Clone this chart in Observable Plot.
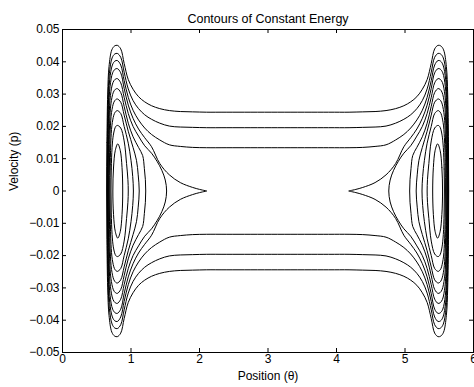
<!DOCTYPE html>
<html>
<head>
<meta charset="utf-8">
<script src="https://cdn.jsdelivr.net/npm/d3@7"></script>
<script src="https://cdn.jsdelivr.net/npm/@observablehq/plot@0.6"></script>
<style>
  html, body { margin: 0; padding: 0; background: #fff; }
  svg { display: block; }
</style>
</head>
<body>
<div id="chart"></div>
<script>
// Title and axis labels
const titleText = "Contours of Constant Energy";
const xLabel = "Position (θ)";
const yLabel = "Velocity (p)";
const xTicks = [0, 1, 2, 3, 4, 5, 6];
const yTicks = [-0.05, -0.04, -0.03, -0.02, -0.01, 0, 0.01, 0.02, 0.03, 0.04, 0.05];

// Traced contours, upper-left quadrant [theta, p], from the left wall (p = 0) rightward.
// Closed loops around the left well (levels 1..7)
const level1 = [[0.735,0],[0.745,0.0073],[0.771,0.0126],[0.807,0.0146],[0.843,0.0126],[0.869,0.0073],[0.879,0]];
const level2 = [[0.708,0],[0.712,0.0068],[0.724,0.0135],[0.742,0.0173],[0.768,0.0196],[0.787,0.0202],[0.805,0.0203],
                [0.85,0.0195],[0.90,0.0155],[0.935,0.0085],[0.955,0.0035],[0.96,0]];
const level3 = [[0.693,0],[0.697,0.0083],[0.708,0.0165],[0.727,0.0212],[0.758,0.024],[0.782,0.0247],[0.80,0.0249],
                [0.85,0.0240],[0.90,0.0200],[0.96,0.0148],[1.0,0.0095],[1.025,0.0045],[1.035,0]];
const level4 = [[0.682,0],[0.686,0.0095],[0.697,0.0189],[0.716,0.0243],[0.750,0.0275],[0.777,0.0283],[0.80,0.0285],
                [0.85,0.0275],[0.90,0.0235],[0.96,0.0185],[1.03,0.0135],[1.08,0.0095],[1.105,0.005],[1.12,0]];
const level5 = [[0.673,0],[0.677,0.0106],[0.688,0.021],[0.707,0.027],[0.743,0.0306],[0.773,0.0315],[0.80,0.0317],
                [0.85,0.0305],[0.90,0.0262],[0.96,0.0210],[1.03,0.0168],[1.11,0.0135],[1.17,0.0110],[1.195,0.007],[1.21,0.0035],[1.215,0]];
const level6 = [[0.666,0],[0.670,0.0116],[0.681,0.023],[0.700,0.0296],[0.737,0.0336],[0.770,0.0346],[0.80,0.0348],
                [0.85,0.0335],[0.90,0.0290],[0.96,0.0240],[1.03,0.0200],[1.11,0.0170],[1.20,0.0140],[1.30,0.0117],[1.38,0.0092],[1.45,0.0064],[1.50,0.0034],[1.52,0]];
const level7 = [[0.660,0],[0.664,0.0127],[0.675,0.0252],[0.694,0.0323],[0.732,0.0366],[0.767,0.0377],[0.80,0.0379],
                [0.85,0.0366],[0.90,0.0318],[0.96,0.0266],[1.03,0.0225],[1.11,0.0192],[1.20,0.0165],[1.30,0.0137],[1.42,0.0085],[1.56,0.0050],[1.72,0.0026],[1.9,0.0011],[2.0,0.0005],[2.08,0.00012],[2.105,0]];
// Open curves that cross the flat middle (levels 8..10), traced to theta = pi
const level8 = [[0.655,0],[0.659,0.0135],[0.670,0.0268],[0.689,0.0344],[0.728,0.039],[0.764,0.0402],[0.80,0.0404],
                [0.85,0.0390],[0.90,0.0342],[0.96,0.0290],[1.03,0.0250],[1.11,0.0220],[1.20,0.0195],[1.30,0.0175],[1.42,0.0158],[1.56,0.0143],[1.72,0.0138],[1.9,0.0135],[2.1,0.0134],[2.4,0.0134],[3.1416,0.0134]];
const level9 = [[0.650,0],[0.654,0.0142],[0.665,0.0283],[0.684,0.0363],[0.724,0.0412],[0.762,0.0424],[0.80,0.0426],
                [0.85,0.0414],[0.90,0.0368],[0.96,0.0316],[1.03,0.0280],[1.11,0.0255],[1.20,0.0236],[1.30,0.0222],[1.42,0.0210],[1.56,0.0201],[1.72,0.0198],[1.9,0.0197],[2.1,0.0196],[2.4,0.0196],[3.1416,0.0196]];
const level10 = [[0.645,0],[0.649,0.015],[0.660,0.030],[0.679,0.0385],[0.72,0.0437],[0.76,0.0449],[0.80,0.0451],
                 [0.85,0.0440],[0.90,0.0395],[0.96,0.0345],[1.03,0.0315],[1.11,0.0292],[1.20,0.0276],[1.30,0.0264],[1.42,0.0255],[1.56,0.0249],[1.72,0.0246],[1.9,0.0245],[2.1,0.0244],[2.4,0.0244],[3.1416,0.0244]];

const closedLevels = [level1, level2, level3, level4, level5, level6, level7];
const openLevels = [level8, level9, level10];
const period = 2 * Math.PI; // picture is mirror-symmetric about theta = pi and p = 0

// Build each full curve from its traced quadrant by the picture's symmetry
function loopFrom(upper) {
  const lower = upper.slice(1, -1).reverse().map(([t, p]) => [t, -p]);
  return upper.concat(lower);
}
const rows = [];
closedLevels.forEach((q, i) => {
  const left = loopFrom(q);
  left.forEach(([t, p]) => rows.push({id: "L" + i, theta: t, p}));
  left.forEach(([t, p]) => rows.push({id: "R" + i, theta: period - t, p}));
});
openLevels.forEach((q, i) => {
  const mirrored = q.slice(0, -1).reverse().map(([t, p]) => [period - t, p]);
  const full = loopFrom(q.concat(mirrored));
  full.forEach(([t, p]) => rows.push({id: "O" + i, theta: t, p}));
});

const chart = Plot.plot({
  width: 474,
  height: 387,
  marginLeft: 62,
  marginRight: 1,
  marginTop: 29,
  marginBottom: 35,
  style: {fontFamily: "'Liberation Sans', Arial, Helvetica, sans-serif", fontSize: "12px", background: "#fff", color: "#000"},
  x: {domain: [0, 6], label: null},
  y: {domain: [-0.05, 0.05], label: null},
  marks: [
    Plot.line(rows, {x: "theta", y: "p", z: "id", curve: "catmull-rom-closed", stroke: "#000", strokeWidth: 1}),
    Plot.axisX(xTicks, {tickSize: 0, tickPadding: 2, fontSize: 12}),
    Plot.axisY(yTicks, {tickSize: 0, tickPadding: 3, fontSize: 12, tickFormat: d => d === 0 ? "0" : (d < 0 ? "\u2212" : "") + Math.abs(d).toFixed(2)}),
    Plot.tickX(xTicks, {x: d => d, insetTop: 319, stroke: "#000"}),
    Plot.tickX(xTicks, {x: d => d, insetBottom: 319, stroke: "#000"}),
    Plot.tickY(yTicks, {y: d => d, insetRight: 407, stroke: "#000"}),
    Plot.tickY(yTicks, {y: d => d, insetLeft: 407, stroke: "#000"}),
    Plot.frame({stroke: "#000"}),
    Plot.text([titleText], {frameAnchor: "top", dy: -15, fontSize: 12.5}),
    Plot.text([xLabel], {frameAnchor: "bottom", dy: 27, fontSize: 12}),
    Plot.text([yLabel], {frameAnchor: "left", dx: -48, rotate: -90, fontSize: 12})
  ]
});
document.getElementById("chart").append(chart);
</script>
</body>
</html>
